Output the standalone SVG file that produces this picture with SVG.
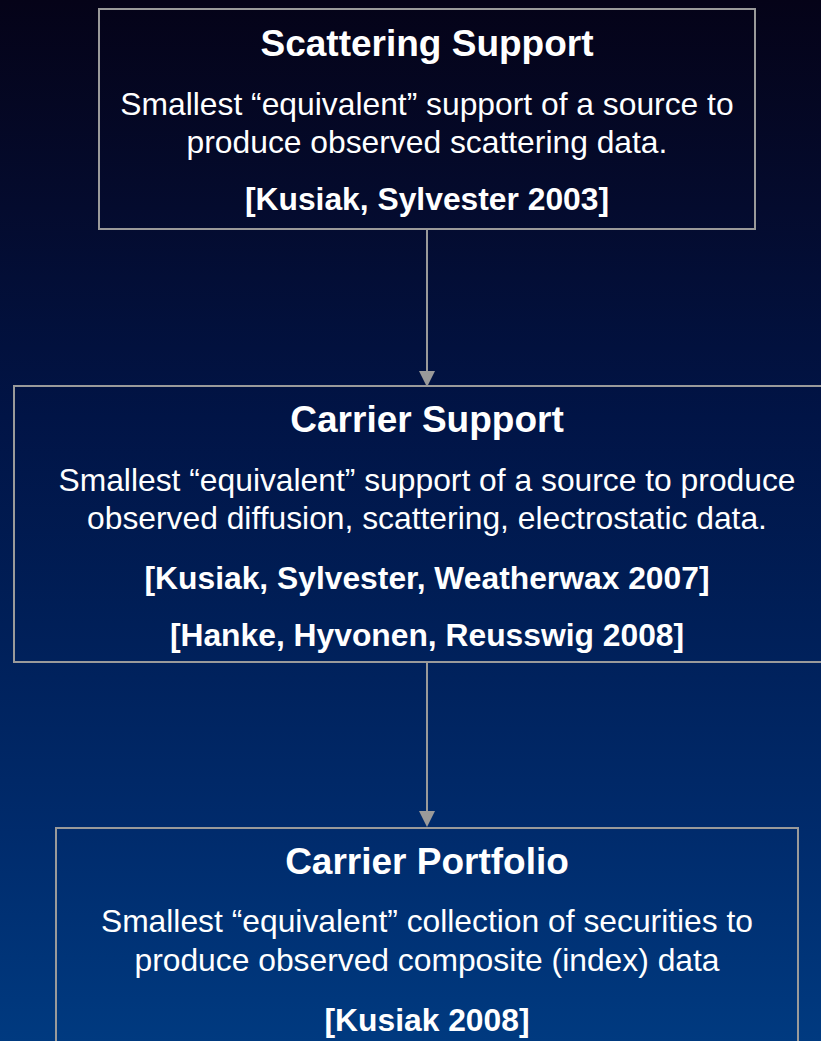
<svg xmlns="http://www.w3.org/2000/svg" width="821" height="1041" viewBox="0 0 821 1041">
  <defs>
    <linearGradient id="bg" x1="0" y1="0" x2="0" y2="1">
      <stop offset="0" stop-color="#050318"/>
      <stop offset="0.2" stop-color="#040b2e"/>
      <stop offset="0.4" stop-color="#011446"/>
      <stop offset="0.6" stop-color="#001f58"/>
      <stop offset="0.8" stop-color="#002b6c"/>
      <stop offset="1" stop-color="#003a80"/>
    </linearGradient>
    <style>
      .box { fill: none; stroke: #9a9a9a; stroke-width: 2; }
      .title { font-family: "Liberation Sans", Arial, sans-serif; font-weight: bold; font-size: 37px; fill: #ffffff; text-anchor: middle; }
      .body { font-family: "Liberation Sans", Arial, sans-serif; font-size: 31.8px; fill: #ffffff; text-anchor: middle; }
      .cite { font-family: "Liberation Sans", Arial, sans-serif; font-weight: bold; font-size: 31.8px; fill: #ffffff; text-anchor: middle; }
      .conn { stroke: #9a9a9a; stroke-width: 2; fill: none; }
      .head { fill: #9a9a9a; }
    </style>
  </defs>

  <rect x="0" y="0" width="821" height="1041" fill="url(#bg)"/>

  <g id="connectors">
    <line class="conn" x1="427" y1="229" x2="427" y2="372"/>
    <path class="head" d="M419,371 L435,371 L427,387 Z"/>
    <line class="conn" x1="427" y1="663" x2="427" y2="812"/>
    <path class="head" d="M419,811 L435,811 L427,827 Z"/>
  </g>

  <g id="scattering-support">
    <rect class="box" x="99" y="9" width="656" height="220"/>
    <text class="title" x="427" y="56">Scattering Support</text>
    <text class="body" x="427" y="115">Smallest “equivalent” support of a source to</text>
    <text class="body" x="427" y="153">produce observed scattering data.</text>
    <text class="cite" x="427" y="210">[Kusiak, Sylvester 2003]</text>
  </g>

  <g id="carrier-support">
    <rect class="box" x="14" y="386" width="830" height="276"/>
    <text class="title" x="427" y="432">Carrier Support</text>
    <text class="body" x="427" y="491">Smallest “equivalent” support of a source to produce</text>
    <text class="body" x="427" y="529">observed diffusion, scattering, electrostatic data.</text>
    <text class="cite" x="427" y="589">[Kusiak, Sylvester, Weatherwax 2007]</text>
    <text class="cite" x="427" y="646">[Hanke, Hyvonen, Reusswig 2008]</text>
  </g>

  <g id="carrier-portfolio">
    <rect class="box" x="56" y="828" width="742" height="240"/>
    <text class="title" x="427" y="874">Carrier Portfolio</text>
    <text class="body" x="427" y="932">Smallest “equivalent” collection of securities to</text>
    <text class="body" x="427" y="971">produce observed composite (index) data</text>
    <text class="cite" x="427" y="1031">[Kusiak 2008]</text>
  </g>
</svg>
